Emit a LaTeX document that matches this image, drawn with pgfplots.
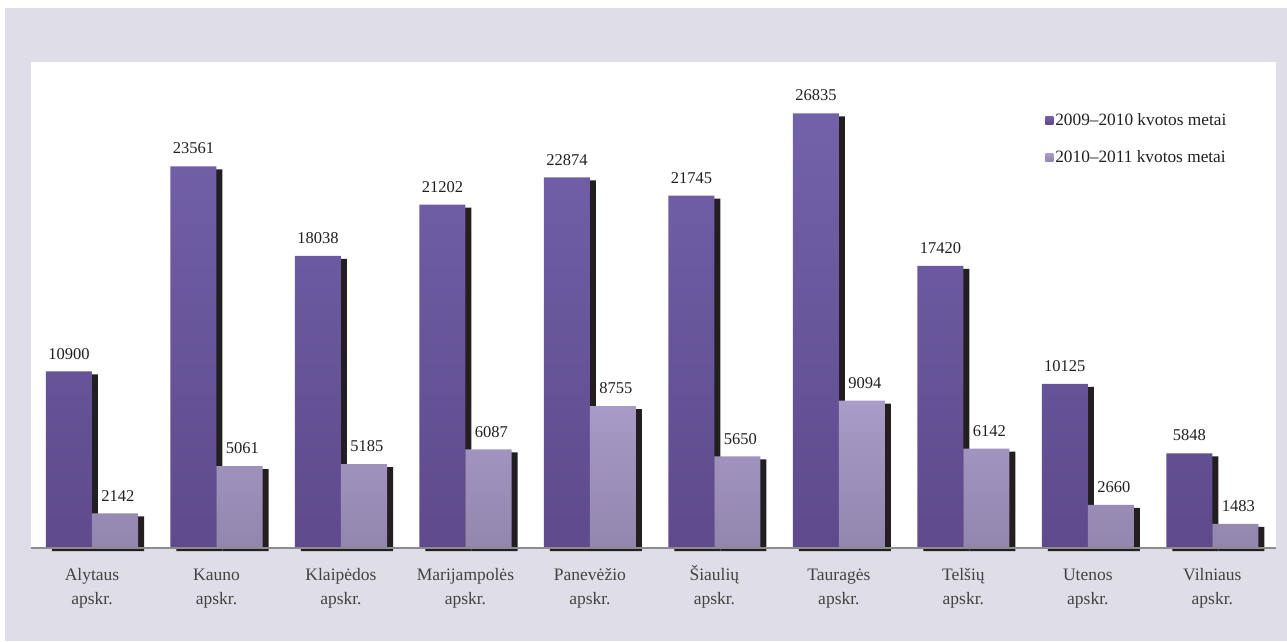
\documentclass[border=0pt]{standalone}
\usepackage{pgfplots}
\usepackage{pgfplotstable}
\pgfplotsset{compat=1.18}
\usepackage{fontspec}
\setmainfont{Liberation Serif}
\definecolor{lav}{HTML}{DFDDE8}
\definecolor{darkA}{HTML}{7262AA}
\definecolor{darkB}{HTML}{5E4A8C}
\definecolor{lightA}{HTML}{A89CC8}
\definecolor{lightB}{HTML}{9286AE}
\definecolor{shad}{HTML}{231F20}
\definecolor{txt}{HTML}{231F20}
\newcommand{\lab}[1]{\rule{0pt}{17pt}#1\\apskr.}
\pgfplotstableread{
x a b
0 10900 2142
1 23561 5061
2 18038 5185
3 21202 6087
4 22874 8755
5 21745 5650
6 26835 9094
7 17420 6142
8 10125 2660
9 5848 1483
}\data
\begin{document}
\begin{tikzpicture}[x=1pt,y=1pt]
\path[use as bounding box] (0,0) rectangle (1287,641);
\fill[white] (0,0) rectangle (1287,641);
\fill[lav] (5,0) rectangle (1287,633);
\begin{axis}[
  at={(31pt,93pt)}, anchor=south west,
  scale only axis, width=1245pt, height=486pt,
  xmin=-0.49, xmax=9.512, ymin=0, ymax=30000,
  axis background/.style={fill=white},
  axis line style={draw=none},
  clip=false,
  ytick=\empty,
  xtick={0,...,9},
  major tick length=0pt,
  xticklabels={{\lab{Alytaus}},{\lab{Kauno}},{\lab{Klaipėdos}},{\lab{Marijampolės}},{\lab{Panevėžio}},{\lab{Šiaulių}},{\lab{Tauragės}},{\lab{Telšių}},{\lab{Utenos}},{\lab{Vilniaus}}},
  xticklabel style={align=center, font=\fontsize{17.5}{23.5}\selectfont, text=txt!85, yshift=-12pt},
  /pgf/number format/assume math mode=true,
  legend style={at={(0.8145,0.899)}, anchor=north west, draw=none, fill=none,
    font=\fontsize{17.3}{20}\selectfont, text=txt, row sep=20pt, inner sep=0pt,
    /tikz/every even column/.append style={column sep=9pt}},
  legend cell align=left,
  legend image code/.code={\path[#1, draw=none] (0pt,-4pt) rectangle (8pt,4pt);},
]
\addplot[ybar, bar width=0.37, bar shift=-0.185, fill=shad, draw=none, xshift=6pt, yshift=-3pt, forget plot] table[x=x,y=a]{\data};
\addplot[ybar, bar width=0.37, bar shift=0.185, fill=shad, draw=none, xshift=6pt, yshift=-3pt, forget plot] table[x=x,y=b]{\data};
\addplot[ybar, bar width=0.37, bar shift=-0.185, draw=none, top color=darkA, bottom color=darkB,
  nodes near coords, nodes near coords style={anchor=south, inner sep=0pt, xshift=-23pt, yshift=12pt, font=\fontsize{16.5}{20}\selectfont, text=txt, /pgf/number format/set thousands separator={}}] table[x=x,y=a]{\data};
\addlegendentry{2009--2010 kvotos metai}
\addplot[ybar, bar width=0.37, bar shift=0.185, draw=none, top color=lightA, bottom color=lightB,
  nodes near coords, nodes near coords style={anchor=south, inner sep=0pt, xshift=26pt, yshift=12pt, font=\fontsize{16.5}{20}\selectfont, text=txt, /pgf/number format/set thousands separator={}}] table[x=x,y=b]{\data};
\addlegendentry{2010--2011 kvotos metai}
\draw[black!45, line width=1.5pt] (rel axis cs:0,0) -- (rel axis cs:1,0);
\end{axis}
\end{tikzpicture}
\end{document}
